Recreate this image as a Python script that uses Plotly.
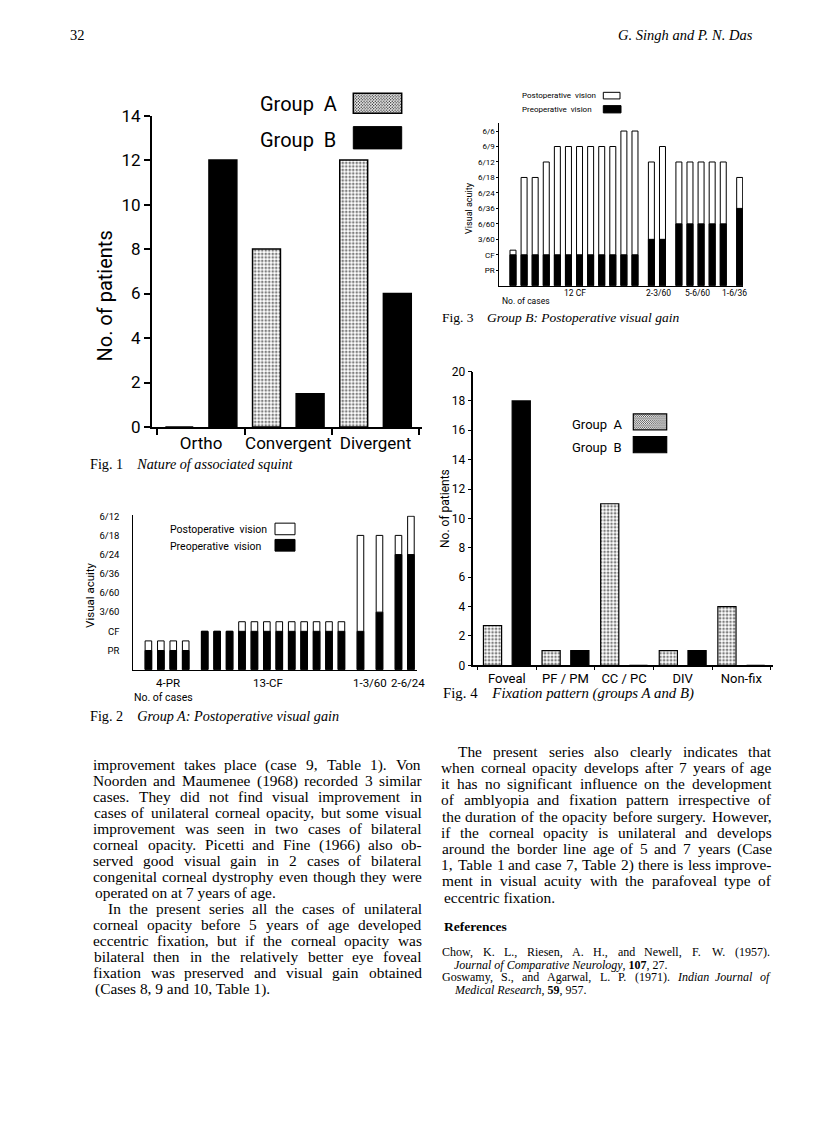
import base64
import plotly.graph_objects as go

W, H = 816, 1135

# ---------------- data ----------------
fig1_categories = ["Ortho", "Convergent", "Divergent"]
fig1_group_a = [0, 8, 12]
fig1_group_b = [12, 1.5, 6]

fig2_levels = ["PR", "CF", "3/60", "6/60", "6/36", "6/24", "6/18", "6/12"]
fig2_pre = [1, 1, 1, 1, 2, 2, 2, 2, 2, 2, 2, 2, 2, 2, 2, 2, 2, 3, 6, 6]
fig2_post = [1.5, 1.5, 1.5, 1.5, 2, 2, 2, 2.5, 2.5, 2.5, 2.5, 2.5, 2.5, 2.5, 2.5, 2.5, 7, 7, 7, 8]
fig2_subgroup = [0, 0, 0, 0, 1, 1, 1, 1, 1, 1, 1, 1, 1, 1, 1, 1, 2, 3, 4, 4]
fig2_group_labels = ["4-PR", "13-CF", "1-3/60", "2-6/24"]

fig3_levels = ["PR", "CF", "3/60", "6/60", "6/36", "6/24", "6/18", "6/12", "6/9", "6/6"]
fig3_pre = [2, 2, 2, 2, 2, 2, 2, 2, 2, 2, 2, 2, 3, 3, 4, 4, 4, 4, 4, 5]
fig3_post = [2.3, 7, 7, 8, 9, 9, 9, 9, 9, 9, 10, 10, 8, 9, 8, 8, 8, 8, 8, 7]
fig3_subgroup = [0, 0, 0, 0, 0, 0, 0, 0, 0, 0, 0, 0, 1, 1, 2, 2, 2, 2, 2, 3]
fig3_group_labels = ["12 CF", "2-3/60", "5-6/60", "1-6/36"]

fig4_categories = ["Foveal", "PF / PM", "CC / PC", "DIV", "Non-fix"]
fig4_group_a = [2.7, 1, 11, 1, 4]
fig4_group_b = [18, 1, 0, 1, 0]

# ---------------- helpers ----------------
def px(x):
    return x / W

def py(y):
    y = y * 1.0175 - 9.5
    return 1 - y / H

SANS = "Roboto"
SERIF = "Liberation Serif"
NB = "\u00a0"

stipple = dict(shape=".", fgcolor="black", bgcolor="white", size=3.5, solidity=0.45)

fig = go.Figure()

# Fig 1
fig.add_trace(go.Bar(x=fig1_categories, y=fig1_group_a, width=0.32, offset=-0.41,
                     marker=dict(color="white", pattern=stipple, line=dict(color="black", width=1.5)),
                     xaxis="x", yaxis="y"))
fig.add_trace(go.Bar(x=fig1_categories, y=fig1_group_b, width=0.32, offset=0.09,
                     marker=dict(color="black", line=dict(color="black", width=1.5)),
                     xaxis="x", yaxis="y"))

# Fig 2
gap2 = 0.53
fig2_x = [i + gap2 * g for i, g in enumerate(fig2_subgroup)]
fig.add_trace(go.Bar(x=fig2_x, y=fig2_post, width=0.53,
                     marker=dict(color="white", line=dict(color="black", width=1)),
                     xaxis="x2", yaxis="y2"))
fig.add_trace(go.Bar(x=fig2_x, y=fig2_pre, width=0.53,
                     marker=dict(color="black", line=dict(color="black", width=1)),
                     xaxis="x2", yaxis="y2"))

# Fig 3
gap3 = 0.48
fig3_x = [i + gap3 * g for i, g in enumerate(fig3_subgroup)]
fig.add_trace(go.Bar(x=fig3_x, y=fig3_post, width=0.54,
                     marker=dict(color="white", line=dict(color="black", width=1)),
                     xaxis="x3", yaxis="y3"))
fig.add_trace(go.Bar(x=fig3_x, y=fig3_pre, width=0.54,
                     marker=dict(color="black", line=dict(color="black", width=1)),
                     xaxis="x3", yaxis="y3"))

# Fig 4
fig.add_trace(go.Bar(x=fig4_categories, y=fig4_group_a, width=0.31, offset=-0.40,
                     marker=dict(color="white", pattern=stipple, line=dict(color="black", width=1.2)),
                     xaxis="x4", yaxis="y4"))
fig.add_trace(go.Bar(x=fig4_categories, y=fig4_group_b, width=0.31, offset=0.09,
                     marker=dict(color="black", line=dict(color="black", width=1.2)),
                     xaxis="x4", yaxis="y4"))

common = dict(showgrid=False, zeroline=False, showline=True, linecolor="black", fixedrange=True)

fig.update_layout(
    width=W, height=H, margin=dict(l=0, r=0, t=0, b=0),
    paper_bgcolor="white", plot_bgcolor="white", showlegend=False,
    barmode="overlay",
    xaxis=dict(common, domain=[px(152), px(422)], type="category", range=[-0.563, 2.533],
               linewidth=2, ticks="outside", tickson="boundaries", ticklen=6, tickwidth=1.5,
               tickangle=0, tickcolor="black", tickfont=dict(family=SANS, size=17, color="black"),
               anchor="y"),
    yaxis=dict(common, domain=[py(426.5), py(115)], range=[0, 14], dtick=2, linewidth=2,
               ticks="outside", ticklen=6, tickwidth=1.5, tickcolor="black",
               tickfont=dict(family=SANS, size=17, color="black"), anchor="x"),
    xaxis2=dict(common, domain=[px(133.3), px(416.7)], range=[-1.215, 21.585], linewidth=1,
                showticklabels=False, ticks="", anchor="y2"),
    yaxis2=dict(common, domain=[py(669.3), py(515)], range=[0, 8.04], linewidth=1,
                tickmode="array", tickvals=list(range(1, len(fig2_levels) + 1)), ticktext=fig2_levels,
                ticks="", ticklabelstandoff=11,
                tickfont=dict(family=SANS, size=9.5, color="black"), anchor="x2"),
    xaxis3=dict(common, domain=[px(499.3), px(743)], range=[-1.235, 20.74], linewidth=1,
                showticklabels=False, ticks="", anchor="y3"),
    yaxis3=dict(common, domain=[py(285.2), py(122.7)], range=[0, 10.5], linewidth=1,
                tickmode="array", tickvals=list(range(1, len(fig3_levels) + 1)), ticktext=fig3_levels,
                ticks="outside", ticklen=2, tickcolor="black",
                tickfont=dict(family=SANS, size=8, color="black"), anchor="x3"),
    xaxis4=dict(common, domain=[px(473.3), px(773.3)], type="category", range=[-0.573, 4.546],
                linewidth=1.5, ticks="outside", tickson="boundaries", ticklen=3, tickcolor="black",
                tickangle=0, tickfont=dict(family=SANS, size=13, color="black"), anchor="y4"),
    yaxis4=dict(common, domain=[py(665), py(371)], range=[0, 20], dtick=2, linewidth=1.5,
                ticks="outside", ticklen=4, tickcolor="black",
                tickfont=dict(family=SANS, size=12, color="black"), anchor="x4"),
)

ann = []
shapes = []
images = []


def text(x, y, s, size, family=SANS, xanchor="left", angle=0, color="black"):
    ann.append(dict(x=px(x), y=py(y), xref="paper", yref="paper", text=s, showarrow=False,
                    xanchor=xanchor, yanchor="middle", textangle=angle,
                    font=dict(family=family, size=size, color=color)))


def rect(x0, y0, x1, y1, fill, lw=1):
    shapes.append(dict(type="rect", xref="paper", yref="paper", x0=px(x0), x1=px(x1),
                       y0=py(y1), y1=py(y0), fillcolor=fill, line=dict(color="black", width=lw)))


dots_svg = ('<svg xmlns="http://www.w3.org/2000/svg" width="60" height="24">'
            '<defs><pattern id="p" width="3.5" height="3.5" patternUnits="userSpaceOnUse">'
            '<circle cx="0.9" cy="0.9" r="0.8" fill="black"/><circle cx="2.65" cy="2.65" r="0.8" fill="black"/>'
            '</pattern></defs><rect width="60" height="24" fill="white"/>'
            '<rect width="60" height="24" fill="url(#p)"/></svg>')
dots_uri = "data:image/svg+xml;base64," + base64.b64encode(dots_svg.encode()).decode()


def stipple_rect(x0, y0, x1, y1, lw=1.5):
    images.append(dict(source=dots_uri, xref="paper", yref="paper", x=px(x0), y=py(y0),
                       sizex=px(x1) - px(x0), sizey=py(y0) - py(y1), xanchor="left", yanchor="top",
                       sizing="stretch", layer="above"))
    shapes.append(dict(type="rect", xref="paper", yref="paper", x0=px(x0), x1=px(x1),
                       y0=py(y1), y1=py(y0), line=dict(color="black", width=lw)))


# Times metrics (per 1000 em) for justification
TW = {" ": 250, "!": 333, "(": 333, ")": 333, ",": 250, "-": 333, ".": 250, "/": 278, ":": 278,
      ";": 278, "A": 722, "B": 667, "C": 667, "D": 722, "E": 611, "F": 556, "G": 722, "H": 722,
      "I": 333, "J": 389, "K": 722, "L": 611, "M": 889, "N": 722, "O": 722, "P": 556, "Q": 722,
      "R": 667, "S": 556, "T": 611, "U": 722, "V": 722, "W": 944, "X": 722, "Y": 722, "Z": 611,
      "a": 444, "b": 500, "c": 444, "d": 500, "e": 444, "f": 333, "g": 500, "h": 500, "i": 278,
      "j": 278, "k": 500, "l": 278, "m": 778, "n": 500, "o": 500, "p": 500, "q": 500, "r": 333,
      "s": 389, "t": 278, "u": 500, "v": 500, "w": 722, "x": 500, "y": 500, "z": 444}


def strip_tags(s):
    out, inside = "", False
    for ch in s:
        if ch == "<":
            inside = True
        elif ch == ">":
            inside = False
        elif not inside:
            out += ch
    return out


def wlen(word, size):
    return sum(TW.get(ch, 500) for ch in strip_tags(word)) * size / 1000.0


def line_text(x0, x1, y, s, size, justify=True):
    words = s.split(" ")
    if not justify or len(words) < 2:
        text(x0, y, s, size, SERIF)
        return
    ws = [wlen(w, size) for w in words]
    gap = (x1 - x0 - sum(ws)) / (len(words) - 1)
    x = x0
    for w, wl in zip(words, ws):
        text(x + wl / 2, y, w, size, SERIF, xanchor="center")
        x += wl + gap


# header
text(68, 34, "32", 14.5, SERIF)
text(755, 34, "<i>G. Singh and P. N. Das</i>", 14.5, SERIF, xanchor="right")

CAP = 14.2

# ---- Fig 1 annotations ----
text(258, 103, "Group" + NB + NB + "A", 20)
text(258, 139.3, "Group" + NB + NB + "B", 20)
stipple_rect(353.3, 92.7, 401.7, 112.7)
rect(353.3, 126, 401.7, 148.3, "black")
text(105, 295, "No. of patients", 20, angle=-90, xanchor="center")
text(88, 464, "Fig. 1" + NB * 4 + "<i>Nature of associated squint</i>", CAP, SERIF)

# ---- Fig 2 annotations ----
text(168, 529.3, "Postoperative" + NB + NB + "vision", 10.5)
text(168, 545.7, "Preoperative" + NB + NB + "vision", 10.5)
rect(275, 522.7, 295, 534.3, "white", 1)
rect(275, 539, 295, 550.7, "black", 1)
text(90.5, 595, "Visual acuity", 11.5, angle=-90, xanchor="center")
fig2_label_x = [1.55, 9.65, 17.83, 20.9]
for lab, lx in zip(fig2_group_labels, fig2_label_x):
    ann.append(dict(x=lx, y=py(683), xref="x2", yref="paper", text=lab, showarrow=False,
                    xanchor="center", yanchor="middle", font=dict(family=SANS, size=11.5, color="black")))
text(131.7, 697, "No. of cases", 10.5)
text(88, 716, "Fig. 2" + NB * 4 + "<i>Group A: Postoperative visual gain</i>", CAP, SERIF)

# ---- Fig 3 annotations ----
text(520, 95, "Postoperative" + NB + NB + "vision", 8)
text(520, 109, "Preoperative" + NB + NB + "vision", 8)
rect(603.3, 91.7, 620, 98.3, "white", 1)
rect(603.3, 105, 621, 112.3, "black", 1)
text(469, 207.3, "Visual acuity", 9, angle=-90, xanchor="center")
fig3_label_x = [5.59, 13.1, 16.62, 19.93]
for lab, lx in zip(fig3_group_labels, fig3_label_x):
    ann.append(dict(x=lx, y=py(292.7), xref="x3", yref="paper", text=lab, showarrow=False,
                    xanchor="center", yanchor="middle", font=dict(family=SANS, size=8.5, color="black")))
text(500, 300.7, "No. of cases", 8.5)
text(440, 317.3, "Fig. 3" + NB * 4 + "<i>Group B: Postoperative visual gain</i>", 13.5, SERIF)

# ---- Fig 4 annotations ----
text(570, 424, "Group" + NB + NB + "A", 13)
text(570, 447.3, "Group" + NB + NB + "B", 13)
stipple_rect(633.3, 413.3, 666.7, 429.3, 1.2)
rect(633.3, 436, 666.7, 452.3, "black", 1.2)
text(445, 507.5, "No. of patients", 12, angle=-90, xanchor="center")
text(441, 693.3, "Fig. 4" + NB * 4 + "<i>Fixation pattern (groups A and B)</i>", CAP + 0.6, SERIF)

# ---- body text ----
BODY = 15.4
left_lines = [
    ("improvement takes place (case 9, Table 1). Von", True, 0),
    ("Noorden and Maumenee (1968) recorded 3 similar", True, 0),
    ("cases. They did not find visual improvement in", True, 0),
    ("cases of unilateral corneal opacity, but some visual", True, 0),
    ("improvement was seen in two cases of bilateral", True, 0),
    ("corneal opacity. Picetti and Fine (1966) also ob-", True, 0),
    ("served good visual gain in 2 cases of bilateral", True, 0),
    ("congenital corneal dystrophy even though they were", True, 0),
    ("operated on at 7 years of age.", False, 0),
    ("In the present series all the cases of unilateral", True, 15),
    ("corneal opacity before 5 years of age developed", True, 0),
    ("eccentric fixation, but if the corneal opacity was", True, 0),
    ("bilateral then in the relatively better eye foveal", True, 0),
    ("fixation was preserved and visual gain obtained", True, 0),
    ("(Cases 8, 9 and 10, Table 1).", False, 0),
]
for k, (s, j, ind) in enumerate(left_lines):
    line_text(93.3 + ind, 421.7, 764.3 + 16.0 * k, s, BODY, j)

right_lines = [
    ("The present series also clearly indicates that", True, 16.6),
    ("when corneal opacity develops after 7 years of age", True, 0),
    ("it has no significant influence on the development", True, 0),
    ("of amblyopia and fixation pattern irrespective of", True, 0),
    ("the duration of the opacity before surgery. However,", True, 0),
    ("if the corneal opacity is unilateral and develops", True, 0),
    ("around the border line age of 5 and 7 years (Case", True, 0),
    ("1, Table 1 and case 7, Table 2) there is less improve-", True, 0),
    ("ment in visual acuity with the parafoveal type of", True, 0),
    ("eccentric fixation.", False, 0),
]
for k, (s, j, ind) in enumerate(right_lines):
    line_text(441.7 + ind, 771.7, 751 + 16.2 * k, s, BODY, j)

REF = 12
text(441.7, 926, "<b>References</b>", 13.5, SERIF)
line_text(441.7, 770, 951.7, "Chow, K. L., Riesen, A. H., and Newell, F. W. (1957).", REF, True)
line_text(451.7, 770, 964.3, "<i>Journal of Comparative Neurology</i>, <b>107</b>, 27.", REF, False)
line_text(441.7, 770, 976.7, "Goswamy, S., and Agarwal, L. P. (1971). <i>Indian</i> <i>Journal</i> <i>of</i>", REF, True)
line_text(451.7, 770, 989.3, "<i>Medical Research</i>, <b>59</b>, 957.", REF, False)

fig.update_layout(annotations=ann, shapes=shapes, images=images)

fig.write_html("out.html", config={"displayModeBar": False},
               post_script="document.body.style.margin='0px';")
